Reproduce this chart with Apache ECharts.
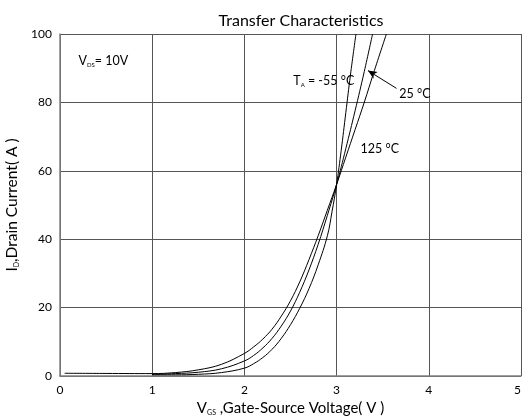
<!DOCTYPE html>
<html>
<head>
<meta charset="utf-8">
<script src="https://cdn.jsdelivr.net/npm/echarts@6/dist/echarts.min.js"></script>
<style>
html,body{margin:0;padding:0;background:#fff;}
#chart{width:522px;height:416px;}
</style>
</head>
<body>
<div id="chart"></div>
<script>
// Data (Vgs in V, Id in A)
var curveM55 = [[1.0,0.35],[1.25,0.35],[1.5,0.5],[1.75,1.0],[2.0,2.3],[2.1,3.6],[2.2,5.4],[2.3,7.8],[2.4,11],[2.5,15],[2.6,19.8],[2.7,25.5],[2.8,32.5],[2.9,41],[2.95,48],[3.0,56],[3.05,66],[3.1,77],[3.15,88],[3.21,100]];
var curve25 = [[1.0,0.5],[1.25,0.7],[1.5,1.1],[1.75,2.1],[2.0,4.4],[2.1,6.0],[2.2,8.2],[2.3,11.0],[2.4,14.6],[2.5,19],[2.6,24.5],[2.7,31],[2.8,38.5],[2.9,47],[3.0,56],[3.1,66.5],[3.2,77.5],[3.3,89],[3.39,100]];
var curve125 = [[0.05,0.8],[0.5,0.75],[1.0,0.7],[1.25,1.0],[1.5,1.8],[1.75,3.4],[2.0,6.6],[2.1,8.5],[2.2,10.8],[2.3,13.7],[2.4,17.5],[2.5,22],[2.6,27.5],[2.7,34],[2.8,41],[2.9,48.5],[3.0,56],[3.1,64],[3.2,72],[3.3,80],[3.4,88.5],[3.54,100]];
var xTicks = [0,1,2,3,4,5];
var yTicks = [0,20,40,60,80,100];
var seriesNames = ['-55 °C','25 °C','125 °C'];

var FONT = 'Lato';
var chart = echarts.init(document.getElementById('chart'));
var sub = {fontSize: 7, fontFamily: FONT, color: '#000', verticalAlign: 'bottom'};
function lineSeries(name, data){
  return {
    name: name, type: 'line', data: data, smooth: 0.4, showSymbol: false,
    lineStyle: {color: '#000', width: 1}, silent: true, animation: false, z: 3
  };
}
var s25 = lineSeries(seriesNames[1], curve25);
s25.markLine = {
  silent: true, animation: false, symbol: ['none','arrow'], symbolSize: [6,9],
  lineStyle: {color: '#000', width: 1, type: 'solid'}, label: {show: false},
  data: [[{coord: [3.65, 84.1]}, {coord: [3.34, 89.3]}]]
};
var option = {
  backgroundColor: '#fff',
  animation: false,
  title: {
    text: 'Transfer Characteristics', left: 296, top: 8, textAlign: 'center',
    textStyle: {fontFamily: FONT, fontSize: 16, fontWeight: 'normal', color: '#000'}
  },
  grid: {left: 60, right: 1, top: 34, bottom: 40, containLabel: false, outerBoundsMode: 'none'},
  xAxis: {
    type: 'value', min: 0, max: 5, interval: 1,
    name: '{v|V}{s|GS} ,Gate-Source Voltage( V )', nameLocation: 'middle', nameGap: 23,
    nameTextStyle: {fontFamily: FONT, fontSize: 15, color: '#000',
      rich: {v: {fontFamily: FONT, fontSize: 15, color: '#000'}, s: sub}},
    axisLine: {show: true, lineStyle: {color: '#808080', width: 1.5}},
    axisTick: {show: false},
    axisLabel: {fontFamily: FONT, fontSize: 12, color: '#000', margin: 8, alignMaxLabel: 'right',
      formatter: function(v){ return xTicks.indexOf(v) >= 0 ? String(v) : ''; }},
    splitLine: {show: true, lineStyle: {color: '#555', width: 1}}
  },
  yAxis: {
    type: 'value', min: 0, max: 100, interval: 20,
    name: '{v|I}{s|D},Drain Current( A )', nameLocation: 'middle', nameGap: 35,
    nameTextStyle: {fontFamily: FONT, fontSize: 15.5, color: '#000',
      rich: {v: {fontFamily: FONT, fontSize: 15.5, color: '#000'}, s: sub}},
    axisLine: {show: true, lineStyle: {color: '#808080', width: 1.5}},
    axisTick: {show: false},
    axisLabel: {fontFamily: FONT, fontSize: 12, color: '#000', margin: 8,
      formatter: function(v){ return yTicks.indexOf(v) >= 0 ? String(v) : ''; }},
    splitLine: {show: true, lineStyle: {color: '#555', width: 1}}
  },
  series: [lineSeries(seriesNames[0], curveM55), s25, lineSeries(seriesNames[2], curve125)]
};
chart.setOption(option);

// Annotation anchors in data coordinates
var notes = [
  {at: [0.2, 92], rich: '{v|V}{s|DS}{v|= 10V}'},
  {at: [2.53, 86.2], rich: '{v|T}{s|A}{v| = -55 °C}'},
  {at: [3.68, 82.4], rich: '{v|25 °C}'},
  {at: [3.26, 66.5], rich: '{v|125 °C}'}
];
var g = notes.map(function(n){
  var p = chart.convertToPixel({gridIndex: 0}, n.at);
  return {
    type: 'text', x: p[0], y: p[1], z: 10,
    style: {text: n.rich, verticalAlign: 'middle', align: 'left',
      rich: {v: {fontFamily: FONT, fontSize: 12.5, fill: '#000'}, s: {fontFamily: FONT, fontSize: 6, fill: '#000', verticalAlign: 'bottom'}}}
  };
});
chart.setOption({graphic: g});
</script>
</body>
</html>
